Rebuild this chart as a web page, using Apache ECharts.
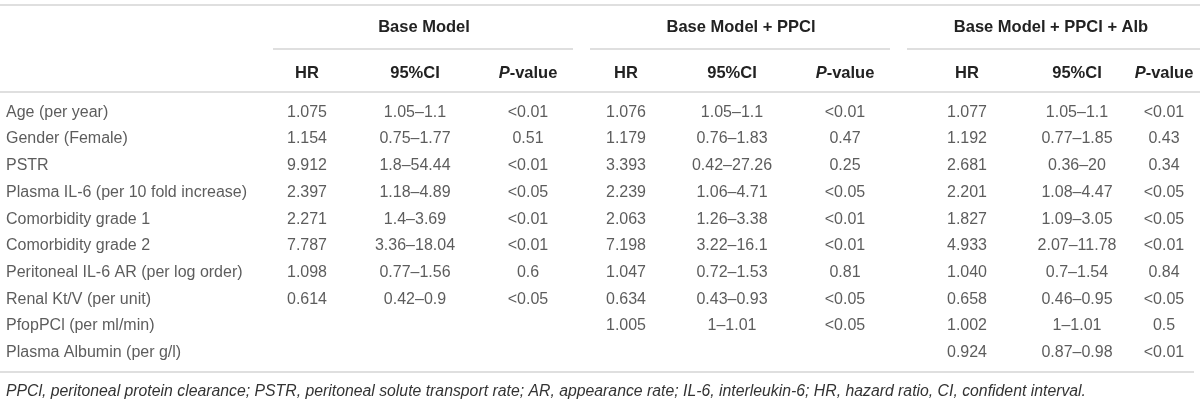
<!DOCTYPE html>
<html>
<head>
<meta charset="utf-8">
<script src="https://cdn.jsdelivr.net/npm/echarts@6/dist/echarts.min.js"></script>
<style>
  html, body { margin: 0; padding: 0; background: #ffffff; }
  #chart { width: 1200px; height: 403px; }
</style>
</head>
<body>
<div id="chart"></div>
<script>
// Row labels (table categories)
const rowNames = [
    'Age (per year)',
    'Gender (Female)',
    'PSTR',
    'Plasma IL-6 (per 10 fold increase)',
    'Comorbidity grade 1',
    'Comorbidity grade 2',
    'Peritoneal IL-6 AR (per log order)',
    'Renal Kt/V (per unit)',
    'PfopPCl (per ml/min)',
    'Plasma Albumin (per g/l)'
];

const modelNames = ['Base Model', 'Base Model + PPCl', 'Base Model + PPCl + Alb'];
const columnNames = ['HR', '95%CI', 'P-value'];

// Base Model
const baseHR = ['1.075', '1.154', '9.912', '2.397', '2.271', '7.787', '1.098', '0.614', '', ''];
const baseCI = ['1.05–1.1', '0.75–1.77', '1.8–54.44', '1.18–4.89', '1.4–3.69', '3.36–18.04', '0.77–1.56', '0.42–0.9', '', ''];
const baseP = ['<0.01', '0.51', '<0.01', '<0.05', '<0.01', '<0.01', '0.6', '<0.05', '', ''];

// Base Model + PPCl
const ppclHR = ['1.076', '1.179', '3.393', '2.239', '2.063', '7.198', '1.047', '0.634', '1.005', ''];
const ppclCI = ['1.05–1.1', '0.76–1.83', '0.42–27.26', '1.06–4.71', '1.26–3.38', '3.22–16.1', '0.72–1.53', '0.43–0.93', '1–1.01', ''];
const ppclP = ['<0.01', '0.47', '0.25', '<0.05', '<0.01', '<0.01', '0.81', '<0.05', '<0.05', ''];

// Base Model + PPCl + Alb
const albHR = ['1.077', '1.192', '2.681', '2.201', '1.827', '4.933', '1.040', '0.658', '1.002', '0.924'];
const albCI = ['1.05–1.1', '0.77–1.85', '0.36–20', '1.08–4.47', '1.09–3.05', '2.07–11.78', '0.7–1.54', '0.46–0.95', '1–1.01', '0.87–0.98'];
const albP = ['<0.01', '0.43', '0.34', '<0.05', '<0.05', '<0.01', '0.84', '<0.05', '0.5', '<0.01'];

const footnote = 'PPCl, peritoneal protein clearance; PSTR, peritoneal solute transport rate; AR, appearance rate; IL-6, interleukin-6; HR, hazard ratio, CI, confident interval.';

// Layout (pixels along the hidden x axis, 0..1200)
const labelX = 6;
const colX = [307, 415, 528, 626, 732, 845, 967, 1077, 1164];
const groupX = [424, 741, 1051];
const groupLines = [[273, 573], [590, 890], [907, 1200]];

const FONT = '"Liberation Sans", Arial, Helvetica, sans-serif';
const TEXT = '#333333';
const HEAD = '#222222';
const RULE = '#d4d4d4';

const columns = [baseHR, baseCI, baseP, ppclHR, ppclCI, ppclP, albHR, albCI, albP];

function cellSeries(values, x, align) {
    return {
        type: 'scatter',
        symbol: 'circle',
        symbolSize: 1,
        itemStyle: { color: 'rgba(0,0,0,0)' },
        silent: true,
        data: values
            .map((v, i) => [x, i, v])
            .filter(d => d[2] !== ''),
        label: {
            show: true,
            position: 'inside',
            align: align,
            verticalAlign: 'middle',
            formatter: p => p.value[2],
            fontFamily: FONT,
            fontSize: 16,
            color: TEXT
        }
    };
}

const series = [cellSeries(rowNames, labelX, 'left')]
    .concat(columns.map((vals, i) => cellSeries(vals, colX[i], 'center')));

const graphics = [];
function rule(x1, x2, y) {
    graphics.push({
        type: 'line',
        silent: true,
        shape: { x1: x1, y1: y, x2: x2, y2: y },
        style: { stroke: RULE, lineWidth: 1.5 }
    });
}
rule(0, 1200, 5);
groupLines.forEach(l => rule(l[0], l[1], 49));
rule(0, 1200, 92);
rule(0, 1194, 372);

modelNames.forEach((name, i) => {
    graphics.push({
        type: 'text',
        silent: true,
        style: {
            text: name, x: groupX[i], y: 27,
            align: 'center', verticalAlign: 'middle',
            font: 'bold 16.5px ' + FONT, fill: HEAD
        }
    });
});

colX.forEach((x, i) => {
    const col = columnNames[i % 3];
    const isP = col === 'P-value';
    graphics.push({
        type: 'text',
        silent: true,
        style: {
            text: isP ? '{i|P}{b|-value}' : '{b|' + col + '}',
            x: x, y: 73,
            align: 'center', verticalAlign: 'middle',
            rich: {
                b: { fontFamily: FONT, fontWeight: 'bold', fontSize: 16.5, fill: HEAD },
                i: { fontFamily: FONT, fontWeight: 'bold', fontStyle: 'italic', fontSize: 16.5, fill: HEAD }
            }
        }
    });
});

graphics.push({
    type: 'text',
    silent: true,
    style: {
        text: footnote, x: 6, y: 392,
        align: 'left', verticalAlign: 'middle',
        font: 'italic 15.8px ' + FONT, fill: TEXT
    }
});

const chart = echarts.init(document.getElementById('chart'));
chart.setOption({
    backgroundColor: '#ffffff',
    animation: false,
    grid: { left: 0, right: 0, top: 99, height: 267 },
    xAxis: {
        type: 'value',
        min: 0,
        max: 1200,
        show: false
    },
    yAxis: {
        type: 'category',
        data: rowNames,
        inverse: true,
        show: false
    },
    series: series,
    graphic: graphics
});

window.addEventListener('resize', () => chart.resize());
</script>
</body>
</html>
